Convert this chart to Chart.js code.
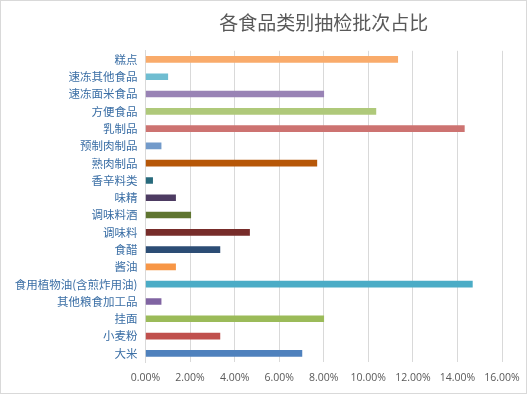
<!DOCTYPE html>
<html>
<head>
<meta charset="utf-8">
<script src="https://cdn.jsdelivr.net/npm/chart.js@4/dist/chart.umd.min.js"></script>
<style>
    html, body { margin: 0; padding: 0; background: #fff; }
    #wrap { width: 525px; height: 392px; border: 1px solid #d9d9d9; }
</style>
</head>
<body>
<div id="wrap"><canvas id="foodChart" width="525" height="392"></canvas></div>
<script>
// Category labels, top to bottom as shown
const categories = ['糕点', '速冻其他食品', '速冻面米食品', '方便食品', '乳制品', '预制肉制品', '熟肉制品',
    '香辛料类', '味精', '调味料酒', '调味料', '食醋', '酱油', '食用植物油(含煎炸用油)',
    '其他粮食加工品', '挂面', '小麦粉', '大米'];

// Share of sampled batches, in percent
const shares = [11.32, 1.0, 8.0, 10.34, 14.31, 0.70, 7.69,
    0.32, 1.35, 2.03, 4.67, 3.34, 1.35, 14.67,
    0.70, 8.0, 3.34, 7.02];

const barColors = ['#F9AB6B', '#6FBDD1', '#9983B5', '#AFC97A', '#CD7371', '#729ACA', '#B65708',
    '#276A7C', '#4D3B62', '#5F7530', '#772C2A', '#2C4D75', '#F79646', '#4BACC6',
    '#8064A2', '#9BBB59', '#C0504D', '#4F81BD'];

const xTicks = [0, 2, 4, 6, 8, 10, 12, 14, 16];

const ctx = document.getElementById('foodChart').getContext('2d');

new Chart(ctx, {
    type: 'bar',
    data: {
        labels: categories,
        datasets: [{
            data: shares,
            backgroundColor: barColors,
            barThickness: 6
        }]
    },
    options: {
        indexAxis: 'y',
        responsive: false,
        animation: false,
        layout: {
            padding: { top: 0, right: 24, bottom: 0, left: 0 }
        },
        plugins: {
            legend: { display: false },
            tooltip: { enabled: false },
            title: {
                display: true,
                text: '各食品类别抽检批次占比',
                fullSize: false,
                color: '#595959',
                font: { family: '"Noto Sans CJK SC", sans-serif', size: 19, weight: 'normal', lineHeight: 1.2 },
                padding: { top: 10, bottom: 17 }
            }
        },
        scales: {
            x: {
                min: 0,
                max: 16,
                afterBuildTicks: (scale) => {
                    scale.ticks = xTicks.map(v => ({ value: v }));
                },
                afterFit: (scale) => {
                    scale.height = 31;
                    scale.paddingLeft = 0;
                    scale.paddingRight = 0;
                },
                grid: {
                    color: '#d9d9d9',
                    drawTicks: false
                },
                border: { display: false },
                ticks: {
                    padding: 10,
                    color: '#595959',
                    font: { family: '"Open Sans", sans-serif', size: 10.5 },
                    callback: (value) => value.toFixed(2) + '%'
                }
            },
            y: {
                afterFit: (scale) => {
                    scale.width = 144.5;
                },
                grid: { display: false, drawTicks: false },
                border: { display: true, color: '#d9d9d9' },
                ticks: {
                    padding: 8,
                    color: '#3a6ea5',
                    autoSkip: false,
                    font: { family: '"Noto Sans CJK SC", sans-serif', size: 11.5 }
                }
            }
        }
    }
});
</script>
</body>
</html>
